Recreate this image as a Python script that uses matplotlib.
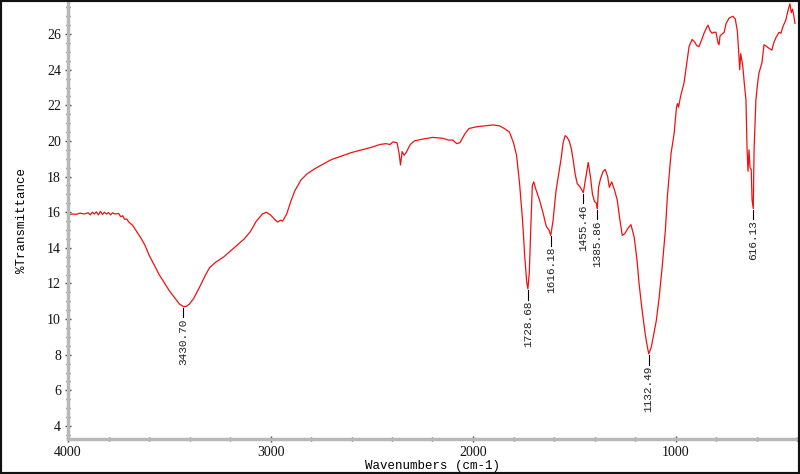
import matplotlib
matplotlib.use("Agg")
import matplotlib.pyplot as plt
from matplotlib.ticker import MultipleLocator
from matplotlib.patches import Rectangle

wavenumber = [4000, 3980, 3960, 3940, 3920, 3900, 3890, 3880, 3870, 3860, 3850, 3840, 3830, 3820,
              3810, 3800, 3790, 3780, 3770, 3750, 3740, 3730, 3720, 3710, 3700, 3680, 3660, 3640,
              3620, 3600, 3550, 3500, 3470, 3450, 3430, 3415, 3400, 3380, 3350, 3320, 3300, 3270, 3230, 3200,
              3160, 3130, 3100, 3070, 3040, 3020, 3000, 2980, 2965, 2950, 2940, 2920, 2900, 2880,
              2850, 2820, 2780, 2740, 2700, 2650, 2600, 2550, 2500, 2460, 2430, 2410, 2395, 2375,
              2365, 2358, 2350, 2340, 2330, 2310, 2290, 2250, 2200, 2150, 2120, 2100, 2080, 2065,
              2040, 2020, 1980, 1940, 1900, 1870, 1845, 1820, 1800, 1785, 1770, 1755, 1745, 1735,
              1729, 1722, 1715, 1707, 1700, 1690, 1672, 1655, 1638, 1625, 1616, 1605, 1590, 1575,
              1565, 1555, 1545, 1535, 1525, 1515, 1505, 1495, 1485, 1470, 1455, 1445, 1431, 1420,
              1410, 1400, 1390, 1386, 1380, 1370, 1357, 1347, 1335, 1327, 1315, 1300, 1288, 1275,
              1263, 1250, 1235, 1220, 1204, 1190, 1180, 1165, 1150, 1140, 1132, 1120, 1105, 1095,
              1080, 1066, 1050, 1040, 1022, 1007, 995, 990, 985, 975, 958, 945, 933, 918, 905, 895,
              884, 870, 859, 845, 839, 830, 820, 810, 800, 790, 785, 780, 760, 750, 735, 716, 705,
              695, 688, 683, 678, 672, 667, 660, 652, 647, 642, 637, 632, 626, 622, 616, 612, 603,
              595, 588, 573, 563, 550, 538, 524, 515, 504, 489, 479, 470, 455, 445, 435, 428, 422,
              417, 410]
transmittance = [15.85, 15.9, 15.88, 15.95, 15.9, 15.97, 15.85, 16.0, 15.9, 16.02, 15.85, 16.05, 15.88, 16.0,
                 15.9, 15.98, 15.85, 15.97, 15.9, 15.93, 15.75, 15.8, 15.6, 15.62, 15.45, 15.25, 14.9, 14.55,
                 14.15, 13.6, 12.5, 11.6, 11.15, 10.85, 10.7, 10.72, 10.85, 11.15, 11.8, 12.5, 12.9, 13.2, 13.5, 13.8,
                 14.2, 14.5, 14.9, 15.5, 15.9, 16.0, 15.85, 15.6, 15.45, 15.55, 15.5, 15.9, 16.6, 17.2,
                 17.8, 18.15, 18.45, 18.7, 18.95, 19.15, 19.35, 19.5, 19.65, 19.8, 19.85, 19.8, 19.95, 19.9,
                 19.3, 18.65, 19.4, 19.2, 19.35, 19.8, 20.0, 20.1, 20.2, 20.15, 20.05, 20.05, 19.85, 19.9,
                 20.4, 20.7, 20.8, 20.85, 20.9, 20.85, 20.7, 20.5, 19.9, 19.2, 17.6, 15.5, 13.6, 12.1,
                 11.7, 12.6, 15.0, 17.5, 17.7, 17.3, 16.7, 16.0, 15.2, 15.0, 14.7, 15.5, 17.2, 18.3,
                 19.0, 19.9, 20.3, 20.2, 20.0, 19.6, 18.9, 18.1, 17.6, 17.4, 17.1, 17.8, 18.8, 18.0,
                 17.0, 16.6, 16.5, 16.2, 17.4, 17.9, 18.3, 18.4, 18.0, 17.4, 17.7, 17.2, 16.7, 15.6,
                 14.7, 14.8, 15.1, 15.3, 14.6, 13.3, 12.0, 10.5, 9.2, 8.5, 8.05, 8.4, 9.3, 9.9,
                 11.3, 12.9, 15.0, 16.9, 19.3, 20.4, 21.9, 22.1, 21.9, 22.5, 23.25, 24.3, 25.3, 25.7, 25.55, 25.35,
                 25.3, 25.7, 26.05, 26.4, 26.5, 26.2, 26.05, 26.1, 26.1, 25.5, 25.4, 25.9, 26.1, 26.6, 26.9, 27.0, 26.85,
                 26.2, 25.0, 24.0, 24.9, 24.5, 24.1, 23.2, 22.3, 19.7, 18.3, 19.5, 18.5, 18.4, 16.7, 16.2, 19.5, 22.3,
                 23.2, 23.8, 24.4, 25.4, 25.3, 25.2, 25.1, 25.5, 25.8, 26.1, 26.05, 26.4, 26.8, 27.3, 27.7, 27.2, 27.4,
                 27.1, 26.6]

peak_wn = [3430.70, 1728.68, 1616.18, 1455.46, 1385.86, 1132.49, 616.13]
peak_t = [10.7, 11.7, 14.7, 17.1, 16.2, 8.05, 16.2]
peak_labels = ["3430.70", "1728.68", "1616.18", "1455.46", "1385.86", "1132.49", "616.13"]

fig = plt.figure(figsize=(8.0, 4.74), dpi=100)
ax = fig.add_axes([68/800, 35/474, 729/800, 437/474])

ax.plot(wavenumber, transmittance, color="#ee1111", lw=0.9)

for wn, t, lab in zip(peak_wn, peak_t, peak_labels):
    ax.plot([wn, wn], [t - 0.05, t - 0.6], color="black", lw=0.8)
    ax.text(wn, t - 0.65, lab, rotation=90, ha="center", va="top",
            fontsize=8, family="Liberation Mono", color="#222222")

ax.set_xlim(4000, 400)
ax.set_ylim(3.27, 27.8)

ax.xaxis.set_major_locator(MultipleLocator(1000))
ax.xaxis.set_minor_locator(MultipleLocator(200))
ax.yaxis.set_major_locator(MultipleLocator(2))
ax.yaxis.set_minor_locator(MultipleLocator(0.5))
ax.set_yticks([4, 6, 8, 10, 12, 14, 16, 18, 20, 22, 24, 26])

for s in ["top", "right"]:
    ax.spines[s].set_visible(False)
for s in ["left", "bottom"]:
    ax.spines[s].set_color("#b8b8b8")
    ax.spines[s].set_linewidth(2.5)

ax.tick_params(which="both", direction="inout", color="#444444", width=1.0,
               labelsize=10, labelcolor="#111111", pad=3)
ax.tick_params(which="major", length=4)
ax.tick_params(which="minor", length=3)
for lab in ax.get_xticklabels() + ax.get_yticklabels():
    lab.set_family("Liberation Serif")

ax.set_xlabel("Wavenumbers (cm-1)", family="Liberation Mono", fontsize=9, labelpad=0.5)
ax.set_ylabel("%Transmittance", family="Liberation Mono", fontsize=9, labelpad=14)

fig.patches.append(Rectangle((0, 0), 1, 1, transform=fig.transFigure, fill=False,
                             edgecolor="#111111", linewidth=3, zorder=10))

fig.savefig("out.png", dpi=100)
